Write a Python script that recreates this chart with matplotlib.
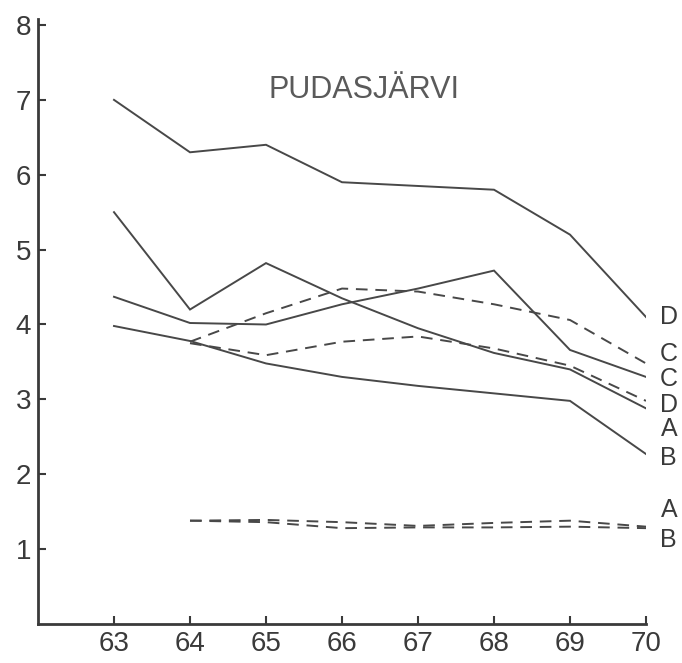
import numpy as np
import matplotlib.pyplot as plt

plt.rcParams['font.family'] = ['Liberation Sans', 'DejaVu Sans']

# vuodet
years = [63, 64, 65, 66, 67, 68, 69, 70]
years_dash = [64, 65, 66, 67, 68, 69, 70]

# yhtenäiset viivat
solid_D = [7.0, 6.3, 6.4, 5.9, 5.85, 5.8, 5.2, 4.1]
solid_A = [5.5, 4.2, 4.82, 4.35, 3.95, 3.62, 3.4, 2.88]
solid_C = [4.37, 4.02, 4.0, 4.27, 4.48, 4.72, 3.66, 3.3]
solid_B = [3.98, 3.78, 3.48, 3.3, 3.18, 3.08, 2.98, 2.27]

# katkoviivat
dash_C = [3.77, 4.15, 4.48, 4.44, 4.27, 4.06, 3.48]
dash_D = [3.75, 3.59, 3.77, 3.84, 3.68, 3.45, 2.98]
dash_A_low = [1.38, 1.39, 1.36, 1.31, 1.35, 1.38, 1.30]
dash_B_low = [1.38, 1.36, 1.28, 1.29, 1.29, 1.30, 1.28]

# tunnisteet oikealla
end_labels = ['D', 'C', 'C', 'D', 'A', 'B', 'A', 'B']
end_label_y = [4.1, 3.6, 3.27, 2.93, 2.6, 2.22, 1.52, 1.12]

ink = '#484848'
dash = (0, (6, 4))

fig = plt.figure(figsize=(6.82, 6.63), dpi=100)
ax = fig.add_axes([38 / 682, 39 / 663, 608 / 682, 605 / 663])

for ys in [solid_D, solid_A, solid_C, solid_B]:
    ax.plot(years, ys, color=ink, lw=1.4, solid_joinstyle='miter')
for ys in [dash_C, dash_D, dash_A_low, dash_B_low]:
    ax.plot(years_dash, ys, color=ink, lw=1.4, linestyle=dash)

for lab, y in zip(end_labels, end_label_y):
    ax.text(70.3, y, lab, ha='center', va='center', fontsize=18,
            color='#3a3a3a', clip_on=False)

ax.text(66.29, 7.13, 'PUDASJÄRVI', ha='center', va='center', fontsize=22,
        color='#5a5a5a')

ax.set_xlim(62, 70)
ax.set_ylim(0, 8.08)
ax.set_xticks(years)
ax.set_yticks(range(1, 9))
ax.spines['top'].set_visible(False)
ax.spines['right'].set_visible(False)
for s in ['left', 'bottom']:
    ax.spines[s].set_linewidth(2)
    ax.spines[s].set_color('#3a3a3a')
ax.tick_params(direction='in', length=6, width=1.5, colors='#3a3a3a',
               labelsize=20, labelcolor='#3a3a3a')
ax.tick_params(axis='y', pad=5)
ax.tick_params(axis='x', pad=5)

fig.savefig('out.png', dpi=100)
